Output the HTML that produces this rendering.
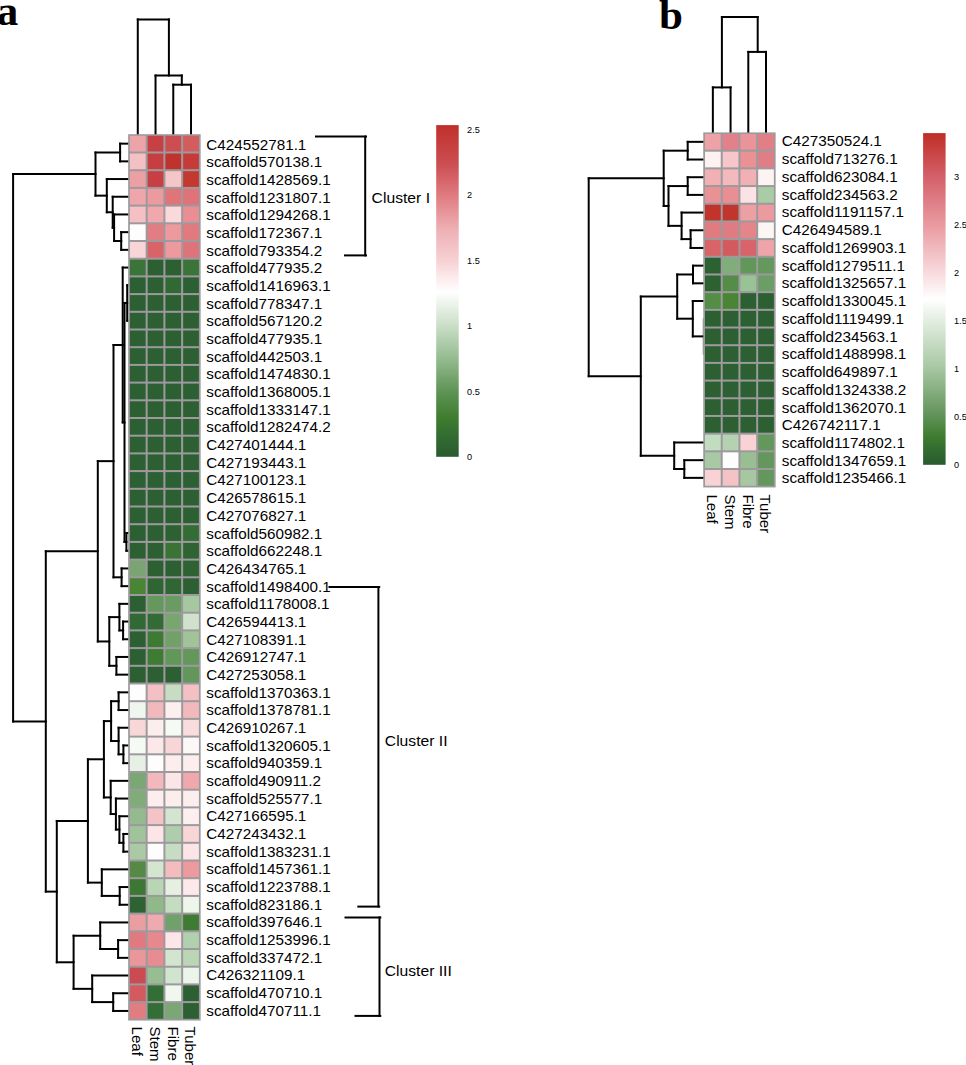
<!DOCTYPE html>
<html><head><meta charset="utf-8"><title>Heatmap</title>
<style>
html,body{margin:0;padding:0;background:#fff;}
body{width:966px;height:1065px;overflow:hidden;}
svg{display:block;font-family:"Liberation Sans", sans-serif;}
text{fill:#000;}
</style></head>
<body>
<svg width="966" height="1065" viewBox="0 0 966 1065">
<rect x="0" y="0" width="966" height="1065" fill="#fff"/>
<line x1="137.78" y1="19.40" x2="137.78" y2="134.80" stroke="#000" stroke-width="2.0" stroke-linecap="square"/>
<line x1="137.78" y1="19.40" x2="168.90" y2="19.40" stroke="#000" stroke-width="2.0" stroke-linecap="square"/>
<line x1="168.90" y1="19.40" x2="168.90" y2="75.50" stroke="#000" stroke-width="2.0" stroke-linecap="square"/>
<line x1="155.53" y1="75.50" x2="181.80" y2="75.50" stroke="#000" stroke-width="2.0" stroke-linecap="square"/>
<line x1="155.53" y1="75.50" x2="155.53" y2="134.80" stroke="#000" stroke-width="2.0" stroke-linecap="square"/>
<line x1="181.80" y1="75.50" x2="181.80" y2="84.70" stroke="#000" stroke-width="2.0" stroke-linecap="square"/>
<line x1="173.28" y1="84.70" x2="191.03" y2="84.70" stroke="#000" stroke-width="2.0" stroke-linecap="square"/>
<line x1="173.28" y1="84.70" x2="173.28" y2="134.80" stroke="#000" stroke-width="2.0" stroke-linecap="square"/>
<line x1="191.03" y1="84.70" x2="191.03" y2="134.80" stroke="#000" stroke-width="2.0" stroke-linecap="square"/>
<line x1="120.10" y1="143.65" x2="128.90" y2="143.65" stroke="#000" stroke-width="2.0" stroke-linecap="square"/>
<line x1="120.10" y1="161.35" x2="128.90" y2="161.35" stroke="#000" stroke-width="2.0" stroke-linecap="square"/>
<line x1="120.10" y1="143.65" x2="120.10" y2="161.35" stroke="#000" stroke-width="2.0" stroke-linecap="square"/>
<line x1="121.20" y1="232.15" x2="128.90" y2="232.15" stroke="#000" stroke-width="2.0" stroke-linecap="square"/>
<line x1="121.20" y1="249.85" x2="128.90" y2="249.85" stroke="#000" stroke-width="2.0" stroke-linecap="square"/>
<line x1="121.20" y1="232.15" x2="121.20" y2="249.85" stroke="#000" stroke-width="2.0" stroke-linecap="square"/>
<line x1="114.10" y1="214.45" x2="128.90" y2="214.45" stroke="#000" stroke-width="2.0" stroke-linecap="square"/>
<line x1="114.10" y1="241.00" x2="121.20" y2="241.00" stroke="#000" stroke-width="2.0" stroke-linecap="square"/>
<line x1="114.10" y1="214.45" x2="114.10" y2="241.00" stroke="#000" stroke-width="2.0" stroke-linecap="square"/>
<line x1="112.70" y1="196.75" x2="128.90" y2="196.75" stroke="#000" stroke-width="2.0" stroke-linecap="square"/>
<line x1="112.70" y1="227.72" x2="114.10" y2="227.72" stroke="#000" stroke-width="2.0" stroke-linecap="square"/>
<line x1="112.70" y1="196.75" x2="112.70" y2="227.72" stroke="#000" stroke-width="2.0" stroke-linecap="square"/>
<line x1="106.80" y1="179.05" x2="128.90" y2="179.05" stroke="#000" stroke-width="2.0" stroke-linecap="square"/>
<line x1="106.80" y1="212.24" x2="112.70" y2="212.24" stroke="#000" stroke-width="2.0" stroke-linecap="square"/>
<line x1="106.80" y1="179.05" x2="106.80" y2="212.24" stroke="#000" stroke-width="2.0" stroke-linecap="square"/>
<line x1="95.50" y1="152.50" x2="120.10" y2="152.50" stroke="#000" stroke-width="2.0" stroke-linecap="square"/>
<line x1="95.50" y1="195.64" x2="106.80" y2="195.64" stroke="#000" stroke-width="2.0" stroke-linecap="square"/>
<line x1="95.50" y1="152.50" x2="95.50" y2="195.64" stroke="#000" stroke-width="2.0" stroke-linecap="square"/>
<line x1="127.20" y1="285.25" x2="128.90" y2="285.25" stroke="#000" stroke-width="2.0" stroke-linecap="square"/>
<line x1="127.20" y1="320.65" x2="128.90" y2="320.65" stroke="#000" stroke-width="2.0" stroke-linecap="square"/>
<line x1="127.20" y1="285.25" x2="127.20" y2="320.65" stroke="#000" stroke-width="2.0" stroke-linecap="square"/>
<line x1="127.20" y1="302.95" x2="128.90" y2="302.95" stroke="#000" stroke-width="2.0" stroke-linecap="square"/>
<line x1="126.40" y1="533.05" x2="128.90" y2="533.05" stroke="#000" stroke-width="2.0" stroke-linecap="square"/>
<line x1="126.40" y1="550.75" x2="128.90" y2="550.75" stroke="#000" stroke-width="2.0" stroke-linecap="square"/>
<line x1="126.40" y1="533.05" x2="126.40" y2="550.75" stroke="#000" stroke-width="2.0" stroke-linecap="square"/>
<line x1="124.50" y1="302.95" x2="127.20" y2="302.95" stroke="#000" stroke-width="2.0" stroke-linecap="square"/>
<line x1="124.50" y1="541.90" x2="126.40" y2="541.90" stroke="#000" stroke-width="2.0" stroke-linecap="square"/>
<line x1="124.50" y1="302.95" x2="124.50" y2="541.90" stroke="#000" stroke-width="2.0" stroke-linecap="square"/>
<line x1="122.70" y1="267.55" x2="128.90" y2="267.55" stroke="#000" stroke-width="2.0" stroke-linecap="square"/>
<line x1="122.70" y1="422.42" x2="124.50" y2="422.42" stroke="#000" stroke-width="2.0" stroke-linecap="square"/>
<line x1="122.70" y1="267.55" x2="122.70" y2="422.42" stroke="#000" stroke-width="2.0" stroke-linecap="square"/>
<line x1="121.60" y1="568.45" x2="128.90" y2="568.45" stroke="#000" stroke-width="2.0" stroke-linecap="square"/>
<line x1="121.60" y1="586.15" x2="128.90" y2="586.15" stroke="#000" stroke-width="2.0" stroke-linecap="square"/>
<line x1="121.60" y1="568.45" x2="121.60" y2="586.15" stroke="#000" stroke-width="2.0" stroke-linecap="square"/>
<line x1="113.50" y1="344.99" x2="122.70" y2="344.99" stroke="#000" stroke-width="2.0" stroke-linecap="square"/>
<line x1="113.50" y1="577.30" x2="121.60" y2="577.30" stroke="#000" stroke-width="2.0" stroke-linecap="square"/>
<line x1="113.50" y1="344.99" x2="113.50" y2="577.30" stroke="#000" stroke-width="2.0" stroke-linecap="square"/>
<line x1="123.10" y1="621.55" x2="128.90" y2="621.55" stroke="#000" stroke-width="2.0" stroke-linecap="square"/>
<line x1="123.10" y1="639.25" x2="128.90" y2="639.25" stroke="#000" stroke-width="2.0" stroke-linecap="square"/>
<line x1="123.10" y1="621.55" x2="123.10" y2="639.25" stroke="#000" stroke-width="2.0" stroke-linecap="square"/>
<line x1="119.40" y1="603.85" x2="128.90" y2="603.85" stroke="#000" stroke-width="2.0" stroke-linecap="square"/>
<line x1="119.40" y1="630.40" x2="123.10" y2="630.40" stroke="#000" stroke-width="2.0" stroke-linecap="square"/>
<line x1="119.40" y1="603.85" x2="119.40" y2="630.40" stroke="#000" stroke-width="2.0" stroke-linecap="square"/>
<line x1="116.40" y1="656.95" x2="128.90" y2="656.95" stroke="#000" stroke-width="2.0" stroke-linecap="square"/>
<line x1="116.40" y1="674.65" x2="128.90" y2="674.65" stroke="#000" stroke-width="2.0" stroke-linecap="square"/>
<line x1="116.40" y1="656.95" x2="116.40" y2="674.65" stroke="#000" stroke-width="2.0" stroke-linecap="square"/>
<line x1="109.30" y1="617.12" x2="119.40" y2="617.12" stroke="#000" stroke-width="2.0" stroke-linecap="square"/>
<line x1="109.30" y1="665.80" x2="116.40" y2="665.80" stroke="#000" stroke-width="2.0" stroke-linecap="square"/>
<line x1="109.30" y1="617.12" x2="109.30" y2="665.80" stroke="#000" stroke-width="2.0" stroke-linecap="square"/>
<line x1="97.80" y1="461.14" x2="113.50" y2="461.14" stroke="#000" stroke-width="2.0" stroke-linecap="square"/>
<line x1="97.80" y1="641.46" x2="109.30" y2="641.46" stroke="#000" stroke-width="2.0" stroke-linecap="square"/>
<line x1="97.80" y1="461.14" x2="97.80" y2="641.46" stroke="#000" stroke-width="2.0" stroke-linecap="square"/>
<line x1="118.60" y1="692.35" x2="128.90" y2="692.35" stroke="#000" stroke-width="2.0" stroke-linecap="square"/>
<line x1="118.60" y1="710.05" x2="128.90" y2="710.05" stroke="#000" stroke-width="2.0" stroke-linecap="square"/>
<line x1="118.60" y1="692.35" x2="118.60" y2="710.05" stroke="#000" stroke-width="2.0" stroke-linecap="square"/>
<line x1="123.40" y1="745.45" x2="128.90" y2="745.45" stroke="#000" stroke-width="2.0" stroke-linecap="square"/>
<line x1="123.40" y1="763.15" x2="128.90" y2="763.15" stroke="#000" stroke-width="2.0" stroke-linecap="square"/>
<line x1="123.40" y1="745.45" x2="123.40" y2="763.15" stroke="#000" stroke-width="2.0" stroke-linecap="square"/>
<line x1="118.60" y1="727.75" x2="128.90" y2="727.75" stroke="#000" stroke-width="2.0" stroke-linecap="square"/>
<line x1="118.60" y1="754.30" x2="123.40" y2="754.30" stroke="#000" stroke-width="2.0" stroke-linecap="square"/>
<line x1="118.60" y1="727.75" x2="118.60" y2="754.30" stroke="#000" stroke-width="2.0" stroke-linecap="square"/>
<line x1="111.10" y1="701.20" x2="118.60" y2="701.20" stroke="#000" stroke-width="2.0" stroke-linecap="square"/>
<line x1="111.10" y1="741.03" x2="118.60" y2="741.03" stroke="#000" stroke-width="2.0" stroke-linecap="square"/>
<line x1="111.10" y1="701.20" x2="111.10" y2="741.03" stroke="#000" stroke-width="2.0" stroke-linecap="square"/>
<line x1="123.40" y1="833.95" x2="128.90" y2="833.95" stroke="#000" stroke-width="2.0" stroke-linecap="square"/>
<line x1="123.40" y1="851.65" x2="128.90" y2="851.65" stroke="#000" stroke-width="2.0" stroke-linecap="square"/>
<line x1="123.40" y1="833.95" x2="123.40" y2="851.65" stroke="#000" stroke-width="2.0" stroke-linecap="square"/>
<line x1="119.40" y1="816.25" x2="128.90" y2="816.25" stroke="#000" stroke-width="2.0" stroke-linecap="square"/>
<line x1="119.40" y1="842.80" x2="123.40" y2="842.80" stroke="#000" stroke-width="2.0" stroke-linecap="square"/>
<line x1="119.40" y1="816.25" x2="119.40" y2="842.80" stroke="#000" stroke-width="2.0" stroke-linecap="square"/>
<line x1="115.90" y1="798.55" x2="128.90" y2="798.55" stroke="#000" stroke-width="2.0" stroke-linecap="square"/>
<line x1="115.90" y1="829.53" x2="119.40" y2="829.53" stroke="#000" stroke-width="2.0" stroke-linecap="square"/>
<line x1="115.90" y1="798.55" x2="115.90" y2="829.53" stroke="#000" stroke-width="2.0" stroke-linecap="square"/>
<line x1="110.70" y1="780.85" x2="128.90" y2="780.85" stroke="#000" stroke-width="2.0" stroke-linecap="square"/>
<line x1="110.70" y1="814.04" x2="115.90" y2="814.04" stroke="#000" stroke-width="2.0" stroke-linecap="square"/>
<line x1="110.70" y1="780.85" x2="110.70" y2="814.04" stroke="#000" stroke-width="2.0" stroke-linecap="square"/>
<line x1="103.90" y1="721.11" x2="111.10" y2="721.11" stroke="#000" stroke-width="2.0" stroke-linecap="square"/>
<line x1="103.90" y1="797.44" x2="110.70" y2="797.44" stroke="#000" stroke-width="2.0" stroke-linecap="square"/>
<line x1="103.90" y1="721.11" x2="103.90" y2="797.44" stroke="#000" stroke-width="2.0" stroke-linecap="square"/>
<line x1="119.70" y1="887.05" x2="128.90" y2="887.05" stroke="#000" stroke-width="2.0" stroke-linecap="square"/>
<line x1="119.70" y1="904.75" x2="128.90" y2="904.75" stroke="#000" stroke-width="2.0" stroke-linecap="square"/>
<line x1="119.70" y1="887.05" x2="119.70" y2="904.75" stroke="#000" stroke-width="2.0" stroke-linecap="square"/>
<line x1="101.80" y1="869.35" x2="128.90" y2="869.35" stroke="#000" stroke-width="2.0" stroke-linecap="square"/>
<line x1="101.80" y1="895.90" x2="119.70" y2="895.90" stroke="#000" stroke-width="2.0" stroke-linecap="square"/>
<line x1="101.80" y1="869.35" x2="101.80" y2="895.90" stroke="#000" stroke-width="2.0" stroke-linecap="square"/>
<line x1="87.90" y1="759.28" x2="103.90" y2="759.28" stroke="#000" stroke-width="2.0" stroke-linecap="square"/>
<line x1="87.90" y1="882.62" x2="101.80" y2="882.62" stroke="#000" stroke-width="2.0" stroke-linecap="square"/>
<line x1="87.90" y1="759.28" x2="87.90" y2="882.62" stroke="#000" stroke-width="2.0" stroke-linecap="square"/>
<line x1="118.10" y1="940.15" x2="128.90" y2="940.15" stroke="#000" stroke-width="2.0" stroke-linecap="square"/>
<line x1="118.10" y1="957.85" x2="128.90" y2="957.85" stroke="#000" stroke-width="2.0" stroke-linecap="square"/>
<line x1="118.10" y1="940.15" x2="118.10" y2="957.85" stroke="#000" stroke-width="2.0" stroke-linecap="square"/>
<line x1="100.20" y1="922.45" x2="128.90" y2="922.45" stroke="#000" stroke-width="2.0" stroke-linecap="square"/>
<line x1="100.20" y1="949.00" x2="118.10" y2="949.00" stroke="#000" stroke-width="2.0" stroke-linecap="square"/>
<line x1="100.20" y1="922.45" x2="100.20" y2="949.00" stroke="#000" stroke-width="2.0" stroke-linecap="square"/>
<line x1="113.20" y1="993.25" x2="128.90" y2="993.25" stroke="#000" stroke-width="2.0" stroke-linecap="square"/>
<line x1="113.20" y1="1010.95" x2="128.90" y2="1010.95" stroke="#000" stroke-width="2.0" stroke-linecap="square"/>
<line x1="113.20" y1="993.25" x2="113.20" y2="1010.95" stroke="#000" stroke-width="2.0" stroke-linecap="square"/>
<line x1="92.20" y1="975.55" x2="128.90" y2="975.55" stroke="#000" stroke-width="2.0" stroke-linecap="square"/>
<line x1="92.20" y1="1002.10" x2="113.20" y2="1002.10" stroke="#000" stroke-width="2.0" stroke-linecap="square"/>
<line x1="92.20" y1="975.55" x2="92.20" y2="1002.10" stroke="#000" stroke-width="2.0" stroke-linecap="square"/>
<line x1="73.60" y1="935.73" x2="100.20" y2="935.73" stroke="#000" stroke-width="2.0" stroke-linecap="square"/>
<line x1="73.60" y1="988.83" x2="92.20" y2="988.83" stroke="#000" stroke-width="2.0" stroke-linecap="square"/>
<line x1="73.60" y1="935.73" x2="73.60" y2="988.83" stroke="#000" stroke-width="2.0" stroke-linecap="square"/>
<line x1="56.80" y1="820.95" x2="87.90" y2="820.95" stroke="#000" stroke-width="2.0" stroke-linecap="square"/>
<line x1="56.80" y1="962.28" x2="73.60" y2="962.28" stroke="#000" stroke-width="2.0" stroke-linecap="square"/>
<line x1="56.80" y1="820.95" x2="56.80" y2="962.28" stroke="#000" stroke-width="2.0" stroke-linecap="square"/>
<line x1="45.80" y1="551.30" x2="97.80" y2="551.30" stroke="#000" stroke-width="2.0" stroke-linecap="square"/>
<line x1="45.80" y1="891.61" x2="56.80" y2="891.61" stroke="#000" stroke-width="2.0" stroke-linecap="square"/>
<line x1="45.80" y1="551.30" x2="45.80" y2="891.61" stroke="#000" stroke-width="2.0" stroke-linecap="square"/>
<line x1="13.10" y1="174.07" x2="95.50" y2="174.07" stroke="#000" stroke-width="2.0" stroke-linecap="square"/>
<line x1="13.10" y1="721.46" x2="45.80" y2="721.46" stroke="#000" stroke-width="2.0" stroke-linecap="square"/>
<line x1="13.10" y1="174.07" x2="13.10" y2="721.46" stroke="#000" stroke-width="2.0" stroke-linecap="square"/>
<rect x="128.15" y="134.20" width="72.50" height="886.35" fill="#9d9a9e"/>
<rect x="129.90" y="135.80" width="15.75" height="15.70" fill="#eda4a8"/>
<rect x="147.65" y="135.80" width="15.75" height="15.70" fill="#c64044"/>
<rect x="165.40" y="135.80" width="15.75" height="15.70" fill="#cc4e52"/>
<rect x="183.15" y="135.80" width="15.75" height="15.70" fill="#d35c5f"/>
<rect x="129.90" y="153.50" width="15.75" height="15.70" fill="#f3c1c4"/>
<rect x="147.65" y="153.50" width="15.75" height="15.70" fill="#c63e3f"/>
<rect x="165.40" y="153.50" width="15.75" height="15.70" fill="#c0332c"/>
<rect x="183.15" y="153.50" width="15.75" height="15.70" fill="#c63b39"/>
<rect x="129.90" y="171.20" width="15.75" height="15.70" fill="#eba0a4"/>
<rect x="147.65" y="171.20" width="15.75" height="15.70" fill="#c73f42"/>
<rect x="165.40" y="171.20" width="15.75" height="15.70" fill="#f5c6c8"/>
<rect x="183.15" y="171.20" width="15.75" height="15.70" fill="#c3382f"/>
<rect x="129.90" y="188.90" width="15.75" height="15.70" fill="#eea6aa"/>
<rect x="147.65" y="188.90" width="15.75" height="15.70" fill="#eb9a9e"/>
<rect x="165.40" y="188.90" width="15.75" height="15.70" fill="#df7479"/>
<rect x="183.15" y="188.90" width="15.75" height="15.70" fill="#df7379"/>
<rect x="129.90" y="206.60" width="15.75" height="15.70" fill="#f4c0c3"/>
<rect x="147.65" y="206.60" width="15.75" height="15.70" fill="#f0a8ac"/>
<rect x="165.40" y="206.60" width="15.75" height="15.70" fill="#f9d9db"/>
<rect x="183.15" y="206.60" width="15.75" height="15.70" fill="#e98f93"/>
<rect x="129.90" y="224.30" width="15.75" height="15.70" fill="#fdfdfd"/>
<rect x="147.65" y="224.30" width="15.75" height="15.70" fill="#e27e83"/>
<rect x="165.40" y="224.30" width="15.75" height="15.70" fill="#ed9a9e"/>
<rect x="183.15" y="224.30" width="15.75" height="15.70" fill="#e1797e"/>
<rect x="129.90" y="242.00" width="15.75" height="15.70" fill="#f8d6d8"/>
<rect x="147.65" y="242.00" width="15.75" height="15.70" fill="#d86468"/>
<rect x="165.40" y="242.00" width="15.75" height="15.70" fill="#ed999d"/>
<rect x="183.15" y="242.00" width="15.75" height="15.70" fill="#de747a"/>
<rect x="129.90" y="259.70" width="15.75" height="15.70" fill="#3a7438"/>
<rect x="147.65" y="259.70" width="15.75" height="15.70" fill="#2c5f31"/>
<rect x="165.40" y="259.70" width="15.75" height="15.70" fill="#2c5f31"/>
<rect x="183.15" y="259.70" width="15.75" height="15.70" fill="#3a7438"/>
<rect x="129.90" y="277.40" width="15.75" height="15.70" fill="#2c5f31"/>
<rect x="147.65" y="277.40" width="15.75" height="15.70" fill="#2c5f31"/>
<rect x="165.40" y="277.40" width="15.75" height="15.70" fill="#306933"/>
<rect x="183.15" y="277.40" width="15.75" height="15.70" fill="#2c5f31"/>
<rect x="129.90" y="295.10" width="15.75" height="15.70" fill="#2c5f31"/>
<rect x="147.65" y="295.10" width="15.75" height="15.70" fill="#2c5f31"/>
<rect x="165.40" y="295.10" width="15.75" height="15.70" fill="#2c5f31"/>
<rect x="183.15" y="295.10" width="15.75" height="15.70" fill="#2c5f31"/>
<rect x="129.90" y="312.80" width="15.75" height="15.70" fill="#2c5f31"/>
<rect x="147.65" y="312.80" width="15.75" height="15.70" fill="#2c5f31"/>
<rect x="165.40" y="312.80" width="15.75" height="15.70" fill="#2c5f31"/>
<rect x="183.15" y="312.80" width="15.75" height="15.70" fill="#2c5f31"/>
<rect x="129.90" y="330.50" width="15.75" height="15.70" fill="#2c5f31"/>
<rect x="147.65" y="330.50" width="15.75" height="15.70" fill="#2c5f31"/>
<rect x="165.40" y="330.50" width="15.75" height="15.70" fill="#2c5f31"/>
<rect x="183.15" y="330.50" width="15.75" height="15.70" fill="#2c5f31"/>
<rect x="129.90" y="348.20" width="15.75" height="15.70" fill="#2c5f31"/>
<rect x="147.65" y="348.20" width="15.75" height="15.70" fill="#2c5f31"/>
<rect x="165.40" y="348.20" width="15.75" height="15.70" fill="#2c5f31"/>
<rect x="183.15" y="348.20" width="15.75" height="15.70" fill="#2c5f31"/>
<rect x="129.90" y="365.90" width="15.75" height="15.70" fill="#2c5f31"/>
<rect x="147.65" y="365.90" width="15.75" height="15.70" fill="#2c5f31"/>
<rect x="165.40" y="365.90" width="15.75" height="15.70" fill="#2c5f31"/>
<rect x="183.15" y="365.90" width="15.75" height="15.70" fill="#2c5f31"/>
<rect x="129.90" y="383.60" width="15.75" height="15.70" fill="#2c5f31"/>
<rect x="147.65" y="383.60" width="15.75" height="15.70" fill="#2c5f31"/>
<rect x="165.40" y="383.60" width="15.75" height="15.70" fill="#2c5f31"/>
<rect x="183.15" y="383.60" width="15.75" height="15.70" fill="#2c5f31"/>
<rect x="129.90" y="401.30" width="15.75" height="15.70" fill="#2c5f31"/>
<rect x="147.65" y="401.30" width="15.75" height="15.70" fill="#2c5f31"/>
<rect x="165.40" y="401.30" width="15.75" height="15.70" fill="#2c5f31"/>
<rect x="183.15" y="401.30" width="15.75" height="15.70" fill="#2c5f31"/>
<rect x="129.90" y="419.00" width="15.75" height="15.70" fill="#2c5f31"/>
<rect x="147.65" y="419.00" width="15.75" height="15.70" fill="#2c5f31"/>
<rect x="165.40" y="419.00" width="15.75" height="15.70" fill="#2c5f31"/>
<rect x="183.15" y="419.00" width="15.75" height="15.70" fill="#2c5f31"/>
<rect x="129.90" y="436.70" width="15.75" height="15.70" fill="#2c5f31"/>
<rect x="147.65" y="436.70" width="15.75" height="15.70" fill="#2c5f31"/>
<rect x="165.40" y="436.70" width="15.75" height="15.70" fill="#2c5f31"/>
<rect x="183.15" y="436.70" width="15.75" height="15.70" fill="#2c5f31"/>
<rect x="129.90" y="454.40" width="15.75" height="15.70" fill="#2c5f31"/>
<rect x="147.65" y="454.40" width="15.75" height="15.70" fill="#2c5f31"/>
<rect x="165.40" y="454.40" width="15.75" height="15.70" fill="#2c5f31"/>
<rect x="183.15" y="454.40" width="15.75" height="15.70" fill="#2c5f31"/>
<rect x="129.90" y="472.10" width="15.75" height="15.70" fill="#2c5f31"/>
<rect x="147.65" y="472.10" width="15.75" height="15.70" fill="#2c5f31"/>
<rect x="165.40" y="472.10" width="15.75" height="15.70" fill="#2c5f31"/>
<rect x="183.15" y="472.10" width="15.75" height="15.70" fill="#2c5f31"/>
<rect x="129.90" y="489.80" width="15.75" height="15.70" fill="#2c5f31"/>
<rect x="147.65" y="489.80" width="15.75" height="15.70" fill="#2c5f31"/>
<rect x="165.40" y="489.80" width="15.75" height="15.70" fill="#2c5f31"/>
<rect x="183.15" y="489.80" width="15.75" height="15.70" fill="#2c5f31"/>
<rect x="129.90" y="507.50" width="15.75" height="15.70" fill="#2c5f31"/>
<rect x="147.65" y="507.50" width="15.75" height="15.70" fill="#2c5f31"/>
<rect x="165.40" y="507.50" width="15.75" height="15.70" fill="#2c5f31"/>
<rect x="183.15" y="507.50" width="15.75" height="15.70" fill="#2c5f31"/>
<rect x="129.90" y="525.20" width="15.75" height="15.70" fill="#2c5f31"/>
<rect x="147.65" y="525.20" width="15.75" height="15.70" fill="#2c5f31"/>
<rect x="165.40" y="525.20" width="15.75" height="15.70" fill="#2d6132"/>
<rect x="183.15" y="525.20" width="15.75" height="15.70" fill="#336c34"/>
<rect x="129.90" y="542.90" width="15.75" height="15.70" fill="#2c5f31"/>
<rect x="147.65" y="542.90" width="15.75" height="15.70" fill="#2c5f31"/>
<rect x="165.40" y="542.90" width="15.75" height="15.70" fill="#3a7435"/>
<rect x="183.15" y="542.90" width="15.75" height="15.70" fill="#2f6432"/>
<rect x="129.90" y="560.60" width="15.75" height="15.70" fill="#7aa572"/>
<rect x="147.65" y="560.60" width="15.75" height="15.70" fill="#2c5f31"/>
<rect x="165.40" y="560.60" width="15.75" height="15.70" fill="#2c5f31"/>
<rect x="183.15" y="560.60" width="15.75" height="15.70" fill="#2e6232"/>
<rect x="129.90" y="578.30" width="15.75" height="15.70" fill="#4a8435"/>
<rect x="147.65" y="578.30" width="15.75" height="15.70" fill="#2f6532"/>
<rect x="165.40" y="578.30" width="15.75" height="15.70" fill="#306633"/>
<rect x="183.15" y="578.30" width="15.75" height="15.70" fill="#2c5f31"/>
<rect x="129.90" y="596.00" width="15.75" height="15.70" fill="#2c5f31"/>
<rect x="147.65" y="596.00" width="15.75" height="15.70" fill="#65985c"/>
<rect x="165.40" y="596.00" width="15.75" height="15.70" fill="#6a9c62"/>
<rect x="183.15" y="596.00" width="15.75" height="15.70" fill="#a6c8a0"/>
<rect x="129.90" y="613.70" width="15.75" height="15.70" fill="#316934"/>
<rect x="147.65" y="613.70" width="15.75" height="15.70" fill="#336b34"/>
<rect x="165.40" y="613.70" width="15.75" height="15.70" fill="#78a66f"/>
<rect x="183.15" y="613.70" width="15.75" height="15.70" fill="#d0e2cc"/>
<rect x="129.90" y="631.40" width="15.75" height="15.70" fill="#2c5f31"/>
<rect x="147.65" y="631.40" width="15.75" height="15.70" fill="#3d7a34"/>
<rect x="165.40" y="631.40" width="15.75" height="15.70" fill="#71a168"/>
<rect x="183.15" y="631.40" width="15.75" height="15.70" fill="#9fc498"/>
<rect x="129.90" y="649.10" width="15.75" height="15.70" fill="#2c5f31"/>
<rect x="147.65" y="649.10" width="15.75" height="15.70" fill="#3e7b33"/>
<rect x="165.40" y="649.10" width="15.75" height="15.70" fill="#62975a"/>
<rect x="183.15" y="649.10" width="15.75" height="15.70" fill="#64985b"/>
<rect x="129.90" y="666.80" width="15.75" height="15.70" fill="#2c5f31"/>
<rect x="147.65" y="666.80" width="15.75" height="15.70" fill="#2c5f31"/>
<rect x="165.40" y="666.80" width="15.75" height="15.70" fill="#2c5f31"/>
<rect x="183.15" y="666.80" width="15.75" height="15.70" fill="#62965a"/>
<rect x="129.90" y="684.50" width="15.75" height="15.70" fill="#fdfdfd"/>
<rect x="147.65" y="684.50" width="15.75" height="15.70" fill="#f3c0c3"/>
<rect x="165.40" y="684.50" width="15.75" height="15.70" fill="#c6dcc3"/>
<rect x="183.15" y="684.50" width="15.75" height="15.70" fill="#f3c0c3"/>
<rect x="129.90" y="702.20" width="15.75" height="15.70" fill="#eef6ed"/>
<rect x="147.65" y="702.20" width="15.75" height="15.70" fill="#f2b9bc"/>
<rect x="165.40" y="702.20" width="15.75" height="15.70" fill="#fdeef0"/>
<rect x="183.15" y="702.20" width="15.75" height="15.70" fill="#f2b9bc"/>
<rect x="129.90" y="719.90" width="15.75" height="15.70" fill="#f8d7d9"/>
<rect x="147.65" y="719.90" width="15.75" height="15.70" fill="#fdeeee"/>
<rect x="165.40" y="719.90" width="15.75" height="15.70" fill="#f6faf4"/>
<rect x="183.15" y="719.90" width="15.75" height="15.70" fill="#f9dcdd"/>
<rect x="129.90" y="737.60" width="15.75" height="15.70" fill="#f6faf4"/>
<rect x="147.65" y="737.60" width="15.75" height="15.70" fill="#fce8e9"/>
<rect x="165.40" y="737.60" width="15.75" height="15.70" fill="#f8d6d8"/>
<rect x="183.15" y="737.60" width="15.75" height="15.70" fill="#fdf8f8"/>
<rect x="129.90" y="755.30" width="15.75" height="15.70" fill="#e6f0e4"/>
<rect x="147.65" y="755.30" width="15.75" height="15.70" fill="#fdfdfd"/>
<rect x="165.40" y="755.30" width="15.75" height="15.70" fill="#fdeeee"/>
<rect x="183.15" y="755.30" width="15.75" height="15.70" fill="#fdeeee"/>
<rect x="129.90" y="773.00" width="15.75" height="15.70" fill="#7aa773"/>
<rect x="147.65" y="773.00" width="15.75" height="15.70" fill="#f2b8bb"/>
<rect x="165.40" y="773.00" width="15.75" height="15.70" fill="#fce5e6"/>
<rect x="183.15" y="773.00" width="15.75" height="15.70" fill="#f0a8ac"/>
<rect x="129.90" y="790.70" width="15.75" height="15.70" fill="#80ac78"/>
<rect x="147.65" y="790.70" width="15.75" height="15.70" fill="#fdeeee"/>
<rect x="165.40" y="790.70" width="15.75" height="15.70" fill="#fdeeee"/>
<rect x="183.15" y="790.70" width="15.75" height="15.70" fill="#fdeeee"/>
<rect x="129.90" y="808.40" width="15.75" height="15.70" fill="#93bb8d"/>
<rect x="147.65" y="808.40" width="15.75" height="15.70" fill="#f4c3c6"/>
<rect x="165.40" y="808.40" width="15.75" height="15.70" fill="#d3e5cf"/>
<rect x="183.15" y="808.40" width="15.75" height="15.70" fill="#fdeef0"/>
<rect x="129.90" y="826.10" width="15.75" height="15.70" fill="#9fc39a"/>
<rect x="147.65" y="826.10" width="15.75" height="15.70" fill="#fce5e6"/>
<rect x="165.40" y="826.10" width="15.75" height="15.70" fill="#aecdaa"/>
<rect x="183.15" y="826.10" width="15.75" height="15.70" fill="#f8d5d7"/>
<rect x="129.90" y="843.80" width="15.75" height="15.70" fill="#a9caa5"/>
<rect x="147.65" y="843.80" width="15.75" height="15.70" fill="#fdfdfd"/>
<rect x="165.40" y="843.80" width="15.75" height="15.70" fill="#c6dcc3"/>
<rect x="183.15" y="843.80" width="15.75" height="15.70" fill="#fce5e6"/>
<rect x="129.90" y="861.50" width="15.75" height="15.70" fill="#548a45"/>
<rect x="147.65" y="861.50" width="15.75" height="15.70" fill="#d4e6d0"/>
<rect x="165.40" y="861.50" width="15.75" height="15.70" fill="#f3bcbf"/>
<rect x="183.15" y="861.50" width="15.75" height="15.70" fill="#ec9a9e"/>
<rect x="129.90" y="879.20" width="15.75" height="15.70" fill="#3c7734"/>
<rect x="147.65" y="879.20" width="15.75" height="15.70" fill="#b9d6b4"/>
<rect x="165.40" y="879.20" width="15.75" height="15.70" fill="#e5f0e3"/>
<rect x="183.15" y="879.20" width="15.75" height="15.70" fill="#fde9ea"/>
<rect x="129.90" y="896.90" width="15.75" height="15.70" fill="#2e6233"/>
<rect x="147.65" y="896.90" width="15.75" height="15.70" fill="#8fb988"/>
<rect x="165.40" y="896.90" width="15.75" height="15.70" fill="#c4dcc0"/>
<rect x="183.15" y="896.90" width="15.75" height="15.70" fill="#eef6ec"/>
<rect x="129.90" y="914.60" width="15.75" height="15.70" fill="#eb9ea2"/>
<rect x="147.65" y="914.60" width="15.75" height="15.70" fill="#eeaaae"/>
<rect x="165.40" y="914.60" width="15.75" height="15.70" fill="#70a16a"/>
<rect x="183.15" y="914.60" width="15.75" height="15.70" fill="#3f7c33"/>
<rect x="129.90" y="932.30" width="15.75" height="15.70" fill="#e07a80"/>
<rect x="147.65" y="932.30" width="15.75" height="15.70" fill="#e6888d"/>
<rect x="165.40" y="932.30" width="15.75" height="15.70" fill="#fde6e8"/>
<rect x="183.15" y="932.30" width="15.75" height="15.70" fill="#b1d0ad"/>
<rect x="129.90" y="950.00" width="15.75" height="15.70" fill="#ea979b"/>
<rect x="147.65" y="950.00" width="15.75" height="15.70" fill="#e78c91"/>
<rect x="165.40" y="950.00" width="15.75" height="15.70" fill="#d3e5cf"/>
<rect x="183.15" y="950.00" width="15.75" height="15.70" fill="#bad6b5"/>
<rect x="129.90" y="967.70" width="15.75" height="15.70" fill="#ca4c50"/>
<rect x="147.65" y="967.70" width="15.75" height="15.70" fill="#97bd91"/>
<rect x="165.40" y="967.70" width="15.75" height="15.70" fill="#d1e4cd"/>
<rect x="183.15" y="967.70" width="15.75" height="15.70" fill="#ecf5ea"/>
<rect x="129.90" y="985.40" width="15.75" height="15.70" fill="#d35a5d"/>
<rect x="147.65" y="985.40" width="15.75" height="15.70" fill="#336f34"/>
<rect x="165.40" y="985.40" width="15.75" height="15.70" fill="#f0f7ee"/>
<rect x="183.15" y="985.40" width="15.75" height="15.70" fill="#2c5f31"/>
<rect x="129.90" y="1003.10" width="15.75" height="15.70" fill="#e07d81"/>
<rect x="147.65" y="1003.10" width="15.75" height="15.70" fill="#336f34"/>
<rect x="165.40" y="1003.10" width="15.75" height="15.70" fill="#7aa773"/>
<rect x="183.15" y="1003.10" width="15.75" height="15.70" fill="#2c5f31"/>
<text x="0" y="0" font-size="14.6" transform="translate(206.30,149.70) scale(1.045,1)">C424552781.1</text>
<text x="0" y="0" font-size="14.6" transform="translate(206.30,167.37) scale(1.045,1)">scaffold570138.1</text>
<text x="0" y="0" font-size="14.6" transform="translate(206.30,185.05) scale(1.045,1)">scaffold1428569.1</text>
<text x="0" y="0" font-size="14.6" transform="translate(206.30,202.72) scale(1.045,1)">scaffold1231807.1</text>
<text x="0" y="0" font-size="14.6" transform="translate(206.30,220.39) scale(1.045,1)">scaffold1294268.1</text>
<text x="0" y="0" font-size="14.6" transform="translate(206.30,238.06) scale(1.045,1)">scaffold172367.1</text>
<text x="0" y="0" font-size="14.6" transform="translate(206.30,255.74) scale(1.045,1)">scaffold793354.2</text>
<text x="0" y="0" font-size="14.6" transform="translate(206.30,273.41) scale(1.045,1)">scaffold477935.2</text>
<text x="0" y="0" font-size="14.6" transform="translate(206.30,291.08) scale(1.045,1)">scaffold1416963.1</text>
<text x="0" y="0" font-size="14.6" transform="translate(206.30,308.76) scale(1.045,1)">scaffold778347.1</text>
<text x="0" y="0" font-size="14.6" transform="translate(206.30,326.43) scale(1.045,1)">scaffold567120.2</text>
<text x="0" y="0" font-size="14.6" transform="translate(206.30,344.10) scale(1.045,1)">scaffold477935.1</text>
<text x="0" y="0" font-size="14.6" transform="translate(206.30,361.78) scale(1.045,1)">scaffold442503.1</text>
<text x="0" y="0" font-size="14.6" transform="translate(206.30,379.45) scale(1.045,1)">scaffold1474830.1</text>
<text x="0" y="0" font-size="14.6" transform="translate(206.30,397.12) scale(1.045,1)">scaffold1368005.1</text>
<text x="0" y="0" font-size="14.6" transform="translate(206.30,414.79) scale(1.045,1)">scaffold1333147.1</text>
<text x="0" y="0" font-size="14.6" transform="translate(206.30,432.47) scale(1.045,1)">scaffold1282474.2</text>
<text x="0" y="0" font-size="14.6" transform="translate(206.30,450.14) scale(1.045,1)">C427401444.1</text>
<text x="0" y="0" font-size="14.6" transform="translate(206.30,467.81) scale(1.045,1)">C427193443.1</text>
<text x="0" y="0" font-size="14.6" transform="translate(206.30,485.49) scale(1.045,1)">C427100123.1</text>
<text x="0" y="0" font-size="14.6" transform="translate(206.30,503.16) scale(1.045,1)">C426578615.1</text>
<text x="0" y="0" font-size="14.6" transform="translate(206.30,520.83) scale(1.045,1)">C427076827.1</text>
<text x="0" y="0" font-size="14.6" transform="translate(206.30,538.51) scale(1.045,1)">scaffold560982.1</text>
<text x="0" y="0" font-size="14.6" transform="translate(206.30,556.18) scale(1.045,1)">scaffold662248.1</text>
<text x="0" y="0" font-size="14.6" transform="translate(206.30,573.85) scale(1.045,1)">C426434765.1</text>
<text x="0" y="0" font-size="14.6" transform="translate(206.30,591.52) scale(1.045,1)">scaffold1498400.1</text>
<text x="0" y="0" font-size="14.6" transform="translate(206.30,609.20) scale(1.045,1)">scaffold1178008.1</text>
<text x="0" y="0" font-size="14.6" transform="translate(206.30,626.87) scale(1.045,1)">C426594413.1</text>
<text x="0" y="0" font-size="14.6" transform="translate(206.30,644.54) scale(1.045,1)">C427108391.1</text>
<text x="0" y="0" font-size="14.6" transform="translate(206.30,662.22) scale(1.045,1)">C426912747.1</text>
<text x="0" y="0" font-size="14.6" transform="translate(206.30,679.89) scale(1.045,1)">C427253058.1</text>
<text x="0" y="0" font-size="14.6" transform="translate(206.30,697.56) scale(1.045,1)">scaffold1370363.1</text>
<text x="0" y="0" font-size="14.6" transform="translate(206.30,715.24) scale(1.045,1)">scaffold1378781.1</text>
<text x="0" y="0" font-size="14.6" transform="translate(206.30,732.91) scale(1.045,1)">C426910267.1</text>
<text x="0" y="0" font-size="14.6" transform="translate(206.30,750.58) scale(1.045,1)">scaffold1320605.1</text>
<text x="0" y="0" font-size="14.6" transform="translate(206.30,768.25) scale(1.045,1)">scaffold940359.1</text>
<text x="0" y="0" font-size="14.6" transform="translate(206.30,785.93) scale(1.045,1)">scaffold490911.2</text>
<text x="0" y="0" font-size="14.6" transform="translate(206.30,803.60) scale(1.045,1)">scaffold525577.1</text>
<text x="0" y="0" font-size="14.6" transform="translate(206.30,821.27) scale(1.045,1)">C427166595.1</text>
<text x="0" y="0" font-size="14.6" transform="translate(206.30,838.95) scale(1.045,1)">C427243432.1</text>
<text x="0" y="0" font-size="14.6" transform="translate(206.30,856.62) scale(1.045,1)">scaffold1383231.1</text>
<text x="0" y="0" font-size="14.6" transform="translate(206.30,874.29) scale(1.045,1)">scaffold1457361.1</text>
<text x="0" y="0" font-size="14.6" transform="translate(206.30,891.97) scale(1.045,1)">scaffold1223788.1</text>
<text x="0" y="0" font-size="14.6" transform="translate(206.30,909.64) scale(1.045,1)">scaffold823186.1</text>
<text x="0" y="0" font-size="14.6" transform="translate(206.30,927.31) scale(1.045,1)">scaffold397646.1</text>
<text x="0" y="0" font-size="14.6" transform="translate(206.30,944.98) scale(1.045,1)">scaffold1253996.1</text>
<text x="0" y="0" font-size="14.6" transform="translate(206.30,962.66) scale(1.045,1)">scaffold337472.1</text>
<text x="0" y="0" font-size="14.6" transform="translate(206.30,980.33) scale(1.045,1)">C426321109.1</text>
<text x="0" y="0" font-size="14.6" transform="translate(206.30,998.00) scale(1.045,1)">scaffold470710.1</text>
<text x="0" y="0" font-size="14.6" transform="translate(206.30,1015.68) scale(1.045,1)">scaffold470711.1</text>
<text x="0" y="0" font-size="15" transform="translate(132.18,1026.60) rotate(90)">Leaf</text>
<text x="0" y="0" font-size="15" transform="translate(149.93,1026.60) rotate(90)">Stem</text>
<text x="0" y="0" font-size="15" transform="translate(167.68,1026.60) rotate(90)">Fibre</text>
<text x="0" y="0" font-size="15" transform="translate(185.43,1026.60) rotate(90)">Tuber</text>
<line x1="721.90" y1="17.10" x2="757.70" y2="17.10" stroke="#000" stroke-width="2.0" stroke-linecap="square"/>
<line x1="721.90" y1="17.10" x2="721.90" y2="87.40" stroke="#000" stroke-width="2.0" stroke-linecap="square"/>
<line x1="712.86" y1="87.40" x2="730.58" y2="87.40" stroke="#000" stroke-width="2.0" stroke-linecap="square"/>
<line x1="712.86" y1="87.40" x2="712.86" y2="133.00" stroke="#000" stroke-width="2.0" stroke-linecap="square"/>
<line x1="730.58" y1="87.40" x2="730.58" y2="133.00" stroke="#000" stroke-width="2.0" stroke-linecap="square"/>
<line x1="757.70" y1="17.10" x2="757.70" y2="51.90" stroke="#000" stroke-width="2.0" stroke-linecap="square"/>
<line x1="748.30" y1="51.90" x2="766.02" y2="51.90" stroke="#000" stroke-width="2.0" stroke-linecap="square"/>
<line x1="748.30" y1="51.90" x2="748.30" y2="133.00" stroke="#000" stroke-width="2.0" stroke-linecap="square"/>
<line x1="766.02" y1="51.90" x2="766.02" y2="133.00" stroke="#000" stroke-width="2.0" stroke-linecap="square"/>
<line x1="687.70" y1="141.84" x2="704.00" y2="141.84" stroke="#000" stroke-width="2.0" stroke-linecap="square"/>
<line x1="687.70" y1="159.53" x2="704.00" y2="159.53" stroke="#000" stroke-width="2.0" stroke-linecap="square"/>
<line x1="687.70" y1="141.84" x2="687.70" y2="159.53" stroke="#000" stroke-width="2.0" stroke-linecap="square"/>
<line x1="687.70" y1="177.21" x2="704.00" y2="177.21" stroke="#000" stroke-width="2.0" stroke-linecap="square"/>
<line x1="687.70" y1="194.90" x2="704.00" y2="194.90" stroke="#000" stroke-width="2.0" stroke-linecap="square"/>
<line x1="687.70" y1="177.21" x2="687.70" y2="194.90" stroke="#000" stroke-width="2.0" stroke-linecap="square"/>
<line x1="690.60" y1="230.27" x2="704.00" y2="230.27" stroke="#000" stroke-width="2.0" stroke-linecap="square"/>
<line x1="690.60" y1="247.95" x2="704.00" y2="247.95" stroke="#000" stroke-width="2.0" stroke-linecap="square"/>
<line x1="690.60" y1="230.27" x2="690.60" y2="247.95" stroke="#000" stroke-width="2.0" stroke-linecap="square"/>
<line x1="681.60" y1="212.58" x2="704.00" y2="212.58" stroke="#000" stroke-width="2.0" stroke-linecap="square"/>
<line x1="681.60" y1="239.11" x2="690.60" y2="239.11" stroke="#000" stroke-width="2.0" stroke-linecap="square"/>
<line x1="681.60" y1="212.58" x2="681.60" y2="239.11" stroke="#000" stroke-width="2.0" stroke-linecap="square"/>
<line x1="668.50" y1="186.06" x2="687.70" y2="186.06" stroke="#000" stroke-width="2.0" stroke-linecap="square"/>
<line x1="668.50" y1="225.85" x2="681.60" y2="225.85" stroke="#000" stroke-width="2.0" stroke-linecap="square"/>
<line x1="668.50" y1="186.06" x2="668.50" y2="225.85" stroke="#000" stroke-width="2.0" stroke-linecap="square"/>
<line x1="663.70" y1="150.69" x2="687.70" y2="150.69" stroke="#000" stroke-width="2.0" stroke-linecap="square"/>
<line x1="663.70" y1="205.95" x2="668.50" y2="205.95" stroke="#000" stroke-width="2.0" stroke-linecap="square"/>
<line x1="663.70" y1="150.69" x2="663.70" y2="205.95" stroke="#000" stroke-width="2.0" stroke-linecap="square"/>
<line x1="693.00" y1="265.64" x2="704.00" y2="265.64" stroke="#000" stroke-width="2.0" stroke-linecap="square"/>
<line x1="693.00" y1="283.32" x2="704.00" y2="283.32" stroke="#000" stroke-width="2.0" stroke-linecap="square"/>
<line x1="693.00" y1="265.64" x2="693.00" y2="283.32" stroke="#000" stroke-width="2.0" stroke-linecap="square"/>
<line x1="703.3" y1="318.19" x2="703.3" y2="354.56" stroke="#8a8a8a" stroke-width="1.2"/>
<line x1="692.80" y1="301.01" x2="704.00" y2="301.01" stroke="#000" stroke-width="2.0" stroke-linecap="square"/>
<line x1="692.80" y1="336.38" x2="703.20" y2="336.38" stroke="#000" stroke-width="2.0" stroke-linecap="square"/>
<line x1="692.80" y1="301.01" x2="692.80" y2="336.38" stroke="#000" stroke-width="2.0" stroke-linecap="square"/>
<line x1="677.20" y1="274.48" x2="693.00" y2="274.48" stroke="#000" stroke-width="2.0" stroke-linecap="square"/>
<line x1="677.20" y1="318.69" x2="692.80" y2="318.69" stroke="#000" stroke-width="2.0" stroke-linecap="square"/>
<line x1="677.20" y1="274.48" x2="677.20" y2="318.69" stroke="#000" stroke-width="2.0" stroke-linecap="square"/>
<line x1="684.30" y1="460.17" x2="704.00" y2="460.17" stroke="#000" stroke-width="2.0" stroke-linecap="square"/>
<line x1="684.30" y1="477.86" x2="704.00" y2="477.86" stroke="#000" stroke-width="2.0" stroke-linecap="square"/>
<line x1="684.30" y1="460.17" x2="684.30" y2="477.86" stroke="#000" stroke-width="2.0" stroke-linecap="square"/>
<line x1="674.20" y1="442.49" x2="704.00" y2="442.49" stroke="#000" stroke-width="2.0" stroke-linecap="square"/>
<line x1="674.20" y1="469.01" x2="684.30" y2="469.01" stroke="#000" stroke-width="2.0" stroke-linecap="square"/>
<line x1="674.20" y1="442.49" x2="674.20" y2="469.01" stroke="#000" stroke-width="2.0" stroke-linecap="square"/>
<line x1="640.80" y1="296.59" x2="677.20" y2="296.59" stroke="#000" stroke-width="2.0" stroke-linecap="square"/>
<line x1="640.80" y1="455.75" x2="674.20" y2="455.75" stroke="#000" stroke-width="2.0" stroke-linecap="square"/>
<line x1="640.80" y1="296.59" x2="640.80" y2="455.75" stroke="#000" stroke-width="2.0" stroke-linecap="square"/>
<line x1="588.70" y1="178.32" x2="663.70" y2="178.32" stroke="#000" stroke-width="2.0" stroke-linecap="square"/>
<line x1="588.70" y1="376.17" x2="640.80" y2="376.17" stroke="#000" stroke-width="2.0" stroke-linecap="square"/>
<line x1="588.70" y1="178.32" x2="588.70" y2="376.17" stroke="#000" stroke-width="2.0" stroke-linecap="square"/>
<rect x="703.25" y="132.40" width="72.38" height="355.05" fill="#9d9a9e"/>
<rect x="705.00" y="134.00" width="15.72" height="15.68" fill="#eca2a6"/>
<rect x="722.72" y="134.00" width="15.72" height="15.68" fill="#e2818a"/>
<rect x="740.44" y="134.00" width="15.72" height="15.68" fill="#ea9499"/>
<rect x="758.16" y="134.00" width="15.72" height="15.68" fill="#e07f86"/>
<rect x="705.00" y="151.69" width="15.72" height="15.68" fill="#fdf1f2"/>
<rect x="722.72" y="151.69" width="15.72" height="15.68" fill="#f6c6c9"/>
<rect x="740.44" y="151.69" width="15.72" height="15.68" fill="#e99195"/>
<rect x="758.16" y="151.69" width="15.72" height="15.68" fill="#e07e85"/>
<rect x="705.00" y="169.37" width="15.72" height="15.68" fill="#f0b0b4"/>
<rect x="722.72" y="169.37" width="15.72" height="15.68" fill="#f2babd"/>
<rect x="740.44" y="169.37" width="15.72" height="15.68" fill="#f0b0b4"/>
<rect x="758.16" y="169.37" width="15.72" height="15.68" fill="#fcf3f3"/>
<rect x="705.00" y="187.06" width="15.72" height="15.68" fill="#e99296"/>
<rect x="722.72" y="187.06" width="15.72" height="15.68" fill="#e98f94"/>
<rect x="740.44" y="187.06" width="15.72" height="15.68" fill="#fbe2e4"/>
<rect x="758.16" y="187.06" width="15.72" height="15.68" fill="#a9cba5"/>
<rect x="705.00" y="204.74" width="15.72" height="15.68" fill="#c1332b"/>
<rect x="722.72" y="204.74" width="15.72" height="15.68" fill="#c1352c"/>
<rect x="740.44" y="204.74" width="15.72" height="15.68" fill="#eca0a4"/>
<rect x="758.16" y="204.74" width="15.72" height="15.68" fill="#eb9a9f"/>
<rect x="705.00" y="222.43" width="15.72" height="15.68" fill="#e07b80"/>
<rect x="722.72" y="222.43" width="15.72" height="15.68" fill="#e07c81"/>
<rect x="740.44" y="222.43" width="15.72" height="15.68" fill="#e4858a"/>
<rect x="758.16" y="222.43" width="15.72" height="15.68" fill="#fbf6f4"/>
<rect x="705.00" y="240.11" width="15.72" height="15.68" fill="#d96468"/>
<rect x="722.72" y="240.11" width="15.72" height="15.68" fill="#d35b5e"/>
<rect x="740.44" y="240.11" width="15.72" height="15.68" fill="#d9636a"/>
<rect x="758.16" y="240.11" width="15.72" height="15.68" fill="#eea4a8"/>
<rect x="705.00" y="257.79" width="15.72" height="15.68" fill="#2c6232"/>
<rect x="722.72" y="257.79" width="15.72" height="15.68" fill="#80ae7b"/>
<rect x="740.44" y="257.79" width="15.72" height="15.68" fill="#619759"/>
<rect x="758.16" y="257.79" width="15.72" height="15.68" fill="#64985c"/>
<rect x="705.00" y="275.48" width="15.72" height="15.68" fill="#2c6232"/>
<rect x="722.72" y="275.48" width="15.72" height="15.68" fill="#538d48"/>
<rect x="740.44" y="275.48" width="15.72" height="15.68" fill="#99c295"/>
<rect x="758.16" y="275.48" width="15.72" height="15.68" fill="#6b9e64"/>
<rect x="705.00" y="293.16" width="15.72" height="15.68" fill="#538d46"/>
<rect x="722.72" y="293.16" width="15.72" height="15.68" fill="#4a8435"/>
<rect x="740.44" y="293.16" width="15.72" height="15.68" fill="#2c5f31"/>
<rect x="758.16" y="293.16" width="15.72" height="15.68" fill="#2c5f31"/>
<rect x="705.00" y="310.85" width="15.72" height="15.68" fill="#2c5f31"/>
<rect x="722.72" y="310.85" width="15.72" height="15.68" fill="#2c5f31"/>
<rect x="740.44" y="310.85" width="15.72" height="15.68" fill="#2c5f31"/>
<rect x="758.16" y="310.85" width="15.72" height="15.68" fill="#2c5f31"/>
<rect x="705.00" y="328.53" width="15.72" height="15.68" fill="#2c5f31"/>
<rect x="722.72" y="328.53" width="15.72" height="15.68" fill="#2c5f31"/>
<rect x="740.44" y="328.53" width="15.72" height="15.68" fill="#2c5f31"/>
<rect x="758.16" y="328.53" width="15.72" height="15.68" fill="#2c5f31"/>
<rect x="705.00" y="346.22" width="15.72" height="15.68" fill="#2c5f31"/>
<rect x="722.72" y="346.22" width="15.72" height="15.68" fill="#2c5f31"/>
<rect x="740.44" y="346.22" width="15.72" height="15.68" fill="#2c5f31"/>
<rect x="758.16" y="346.22" width="15.72" height="15.68" fill="#2c5f31"/>
<rect x="705.00" y="363.90" width="15.72" height="15.68" fill="#2c5f31"/>
<rect x="722.72" y="363.90" width="15.72" height="15.68" fill="#2c5f31"/>
<rect x="740.44" y="363.90" width="15.72" height="15.68" fill="#2c5f31"/>
<rect x="758.16" y="363.90" width="15.72" height="15.68" fill="#2c5f31"/>
<rect x="705.00" y="381.59" width="15.72" height="15.68" fill="#2c5f31"/>
<rect x="722.72" y="381.59" width="15.72" height="15.68" fill="#2c5f31"/>
<rect x="740.44" y="381.59" width="15.72" height="15.68" fill="#2c5f31"/>
<rect x="758.16" y="381.59" width="15.72" height="15.68" fill="#2c5f31"/>
<rect x="705.00" y="399.27" width="15.72" height="15.68" fill="#2c5f31"/>
<rect x="722.72" y="399.27" width="15.72" height="15.68" fill="#2c5f31"/>
<rect x="740.44" y="399.27" width="15.72" height="15.68" fill="#2c5f31"/>
<rect x="758.16" y="399.27" width="15.72" height="15.68" fill="#2c5f31"/>
<rect x="705.00" y="416.96" width="15.72" height="15.68" fill="#2c5f31"/>
<rect x="722.72" y="416.96" width="15.72" height="15.68" fill="#2c5f31"/>
<rect x="740.44" y="416.96" width="15.72" height="15.68" fill="#2c5f31"/>
<rect x="758.16" y="416.96" width="15.72" height="15.68" fill="#2c5f31"/>
<rect x="705.00" y="434.64" width="15.72" height="15.68" fill="#c2dcbf"/>
<rect x="722.72" y="434.64" width="15.72" height="15.68" fill="#b5d2b0"/>
<rect x="740.44" y="434.64" width="15.72" height="15.68" fill="#f8d2d5"/>
<rect x="758.16" y="434.64" width="15.72" height="15.68" fill="#64975b"/>
<rect x="705.00" y="452.33" width="15.72" height="15.68" fill="#a8c9a4"/>
<rect x="722.72" y="452.33" width="15.72" height="15.68" fill="#fdfdfd"/>
<rect x="740.44" y="452.33" width="15.72" height="15.68" fill="#98be92"/>
<rect x="758.16" y="452.33" width="15.72" height="15.68" fill="#64975b"/>
<rect x="705.00" y="470.01" width="15.72" height="15.68" fill="#f8d2d5"/>
<rect x="722.72" y="470.01" width="15.72" height="15.68" fill="#f4c3c6"/>
<rect x="740.44" y="470.01" width="15.72" height="15.68" fill="#a6c8a1"/>
<rect x="758.16" y="470.01" width="15.72" height="15.68" fill="#64975b"/>
<text x="0" y="0" font-size="14.6" transform="translate(781.80,146.40) scale(1.045,1)">C427350524.1</text>
<text x="0" y="0" font-size="14.6" transform="translate(781.80,164.14) scale(1.045,1)">scaffold713276.1</text>
<text x="0" y="0" font-size="14.6" transform="translate(781.80,181.88) scale(1.045,1)">scaffold623084.1</text>
<text x="0" y="0" font-size="14.6" transform="translate(781.80,199.62) scale(1.045,1)">scaffold234563.2</text>
<text x="0" y="0" font-size="14.6" transform="translate(781.80,217.36) scale(1.045,1)">scaffold1191157.1</text>
<text x="0" y="0" font-size="14.6" transform="translate(781.80,235.10) scale(1.045,1)">C426494589.1</text>
<text x="0" y="0" font-size="14.6" transform="translate(781.80,252.84) scale(1.045,1)">scaffold1269903.1</text>
<text x="0" y="0" font-size="14.6" transform="translate(781.80,270.58) scale(1.045,1)">scaffold1279511.1</text>
<text x="0" y="0" font-size="14.6" transform="translate(781.80,288.32) scale(1.045,1)">scaffold1325657.1</text>
<text x="0" y="0" font-size="14.6" transform="translate(781.80,306.06) scale(1.045,1)">scaffold1330045.1</text>
<text x="0" y="0" font-size="14.6" transform="translate(781.80,323.80) scale(1.045,1)">scaffold1119499.1</text>
<text x="0" y="0" font-size="14.6" transform="translate(781.80,341.54) scale(1.045,1)">scaffold234563.1</text>
<text x="0" y="0" font-size="14.6" transform="translate(781.80,359.28) scale(1.045,1)">scaffold1488998.1</text>
<text x="0" y="0" font-size="14.6" transform="translate(781.80,377.02) scale(1.045,1)">scaffold649897.1</text>
<text x="0" y="0" font-size="14.6" transform="translate(781.80,394.76) scale(1.045,1)">scaffold1324338.2</text>
<text x="0" y="0" font-size="14.6" transform="translate(781.80,412.50) scale(1.045,1)">scaffold1362070.1</text>
<text x="0" y="0" font-size="14.6" transform="translate(781.80,430.24) scale(1.045,1)">C426742117.1</text>
<text x="0" y="0" font-size="14.6" transform="translate(781.80,447.98) scale(1.045,1)">scaffold1174802.1</text>
<text x="0" y="0" font-size="14.6" transform="translate(781.80,465.72) scale(1.045,1)">scaffold1347659.1</text>
<text x="0" y="0" font-size="14.6" transform="translate(781.80,483.46) scale(1.045,1)">scaffold1235466.1</text>
<text x="0" y="0" font-size="15" transform="translate(707.26,494.50) rotate(90)">Leaf</text>
<text x="0" y="0" font-size="15" transform="translate(724.98,494.50) rotate(90)">Stem</text>
<text x="0" y="0" font-size="15" transform="translate(742.70,494.50) rotate(90)">Fibre</text>
<text x="0" y="0" font-size="15" transform="translate(760.42,494.50) rotate(90)">Tuber</text>
<line x1="316.00" y1="136.60" x2="366.00" y2="136.60" stroke="#000" stroke-width="2.0" stroke-linecap="square"/>
<line x1="365.20" y1="136.60" x2="365.20" y2="255.40" stroke="#000" stroke-width="2.0" stroke-linecap="square"/>
<line x1="345.00" y1="255.40" x2="366.00" y2="255.40" stroke="#000" stroke-width="2.0" stroke-linecap="square"/>
<text x="0" y="0" font-size="14.8" transform="translate(371.6,202.6) scale(1.06,1)">Cluster I</text>
<line x1="329.50" y1="587.00" x2="379.20" y2="587.00" stroke="#000" stroke-width="2.0" stroke-linecap="square"/>
<line x1="378.40" y1="587.00" x2="378.40" y2="906.60" stroke="#000" stroke-width="2.0" stroke-linecap="square"/>
<line x1="358.30" y1="906.60" x2="379.20" y2="906.60" stroke="#000" stroke-width="2.0" stroke-linecap="square"/>
<text x="0" y="0" font-size="14.8" transform="translate(384.8,745.6) scale(1.06,1)">Cluster II</text>
<line x1="345.50" y1="917.40" x2="380.30" y2="917.40" stroke="#000" stroke-width="2.0" stroke-linecap="square"/>
<line x1="379.50" y1="917.40" x2="379.50" y2="1015.90" stroke="#000" stroke-width="2.0" stroke-linecap="square"/>
<line x1="355.50" y1="1015.90" x2="380.30" y2="1015.90" stroke="#000" stroke-width="2.0" stroke-linecap="square"/>
<text x="0" y="0" font-size="14.8" transform="translate(384.7,976.2) scale(1.06,1)">Cluster III</text>
<defs><linearGradient id="g542" x1="0" y1="0" x2="0" y2="1"><stop offset="0.0000" stop-color="#c0302a"/><stop offset="0.1197" stop-color="#cc4f53"/><stop offset="0.2175" stop-color="#e07e83"/><stop offset="0.3153" stop-color="#eeb0b4"/><stop offset="0.4131" stop-color="#f7d3d6"/><stop offset="0.4601" stop-color="#fceaec"/><stop offset="0.5031" stop-color="#ffffff"/><stop offset="0.6088" stop-color="#c8ddc5"/><stop offset="0.7066" stop-color="#93ba8e"/><stop offset="0.8044" stop-color="#5d9354"/><stop offset="0.8826" stop-color="#3f7d2f"/><stop offset="0.9413" stop-color="#326b31"/><stop offset="1.0000" stop-color="#2a5a2f"/></linearGradient></defs>
<rect x="436.2" y="125.1" width="22.5" height="331.7" fill="url(#g542)"/>
<text x="467.10" y="132.95" font-size="9.2" fill="#222">2.5</text>
<text x="467.10" y="198.40" font-size="9.2" fill="#222">2</text>
<text x="467.10" y="263.85" font-size="9.2" fill="#222">1.5</text>
<text x="467.10" y="329.30" font-size="9.2" fill="#222">1</text>
<text x="467.10" y="394.75" font-size="9.2" fill="#222">0.5</text>
<text x="467.10" y="460.20" font-size="9.2" fill="#222">0</text>
<defs><linearGradient id="g550" x1="0" y1="0" x2="0" y2="1"><stop offset="0.0000" stop-color="#bf2e26"/><stop offset="0.1317" stop-color="#d4606a"/><stop offset="0.2764" stop-color="#e99aa0"/><stop offset="0.4211" stop-color="#f8dadd"/><stop offset="0.5001" stop-color="#ffffff"/><stop offset="0.5658" stop-color="#e2eee0"/><stop offset="0.7106" stop-color="#a6c6a1"/><stop offset="0.8553" stop-color="#5f9157"/><stop offset="0.9132" stop-color="#3f7d2f"/><stop offset="0.9566" stop-color="#326b31"/><stop offset="1.0000" stop-color="#2a5a2f"/></linearGradient></defs>
<rect x="923.1" y="133.1" width="22.5" height="331.7" fill="url(#g550)"/>
<text x="954.00" y="180.40" font-size="9.2" fill="#222">3</text>
<text x="954.00" y="228.40" font-size="9.2" fill="#222">2.5</text>
<text x="954.00" y="276.40" font-size="9.2" fill="#222">2</text>
<text x="954.00" y="324.40" font-size="9.2" fill="#222">1.5</text>
<text x="954.00" y="372.40" font-size="9.2" fill="#222">1</text>
<text x="954.00" y="420.40" font-size="9.2" fill="#222">0.5</text>
<text x="954.00" y="468.40" font-size="9.2" fill="#222">0</text>
<text x="-3.2" y="24.8" font-size="43" font-weight="bold" font-family="'Liberation Serif', serif">a</text>
<text x="659" y="28.7" font-size="43" font-weight="bold" font-family="'Liberation Serif', serif">b</text>
</svg>
</body></html>
